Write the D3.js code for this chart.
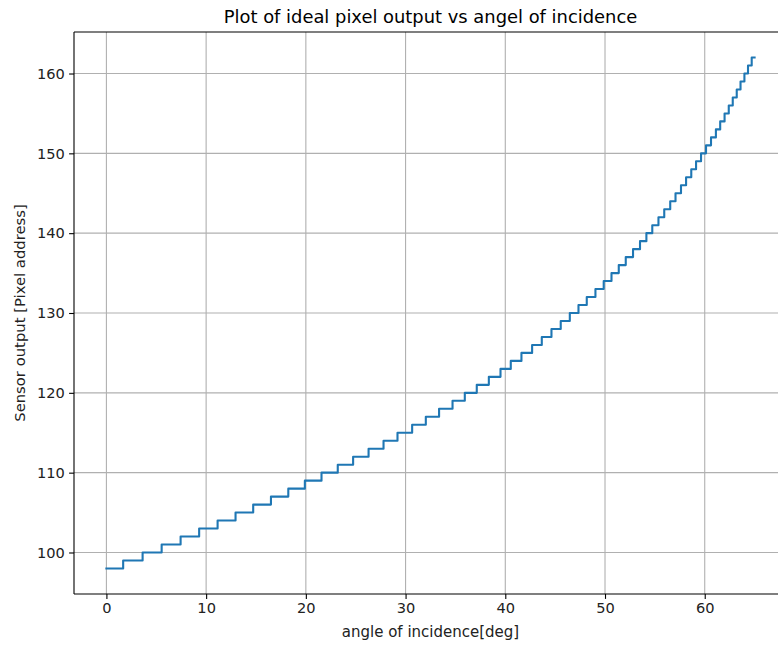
<!DOCTYPE html>
<html>
<head>
<meta charset="utf-8">
<script src="https://cdn.jsdelivr.net/npm/d3@7"></script>
<style>
  html, body { margin: 0; padding: 0; background: #fff; }
  svg { display: block; font-family: "DejaVu Sans", sans-serif; }
</style>
</head>
<body>
<svg id="chart" width="778" height="647"></svg>
<script>
// ---- data ----
const startAngle = 0;
const startValue = 98;
const endAngle = 65;
const stepAngles = [1.68, 3.63, 5.54, 7.44, 9.30, 11.15, 12.95, 14.72, 16.50, 18.24,
  19.90, 21.57, 23.20, 24.74, 26.29, 27.79, 29.19, 30.66, 32.03, 33.36,
  34.71, 35.94, 37.14, 38.35, 39.52, 40.55, 41.62, 42.69, 43.66, 44.63,
  45.56, 46.47, 47.34, 48.17, 49.04, 49.87, 50.65, 51.38, 52.08, 52.81,
  53.51, 54.15, 54.74, 55.36, 55.94, 56.54, 57.07, 57.62, 58.13, 58.65,
  59.13, 59.63, 60.13, 60.63, 61.12, 61.55, 61.99, 62.41, 62.81, 63.21,
  63.59, 63.98, 64.34, 64.71];
const stepValues = [99, 100, 101, 102, 103, 104, 105, 106, 107, 108,
  109, 110, 111, 112, 113, 114, 115, 116, 117, 118,
  119, 120, 121, 122, 123, 124, 125, 126, 127, 128,
  129, 130, 131, 132, 133, 134, 135, 136, 137, 138,
  139, 140, 141, 142, 143, 144, 145, 146, 147, 148,
  149, 150, 151, 152, 153, 154, 155, 156, 157, 158,
  159, 160, 161, 162];
const xTicks = [0, 10, 20, 30, 40, 50, 60];
const yTicks = [100, 110, 120, 130, 140, 150, 160];
const titleText = "Plot of ideal pixel output vs angel of incidence";
const xLabelText = "angle of incidence[deg]";
const yLabelText = "Sensor output [Pixel address]";

// ---- build points ----
const points = [[startAngle, startValue]];
stepAngles.forEach((a, i) => points.push([a, stepValues[i]]));
points.push([endAngle, stepValues[stepValues.length - 1]]);

// ---- layout ----
const L = 74, T = 32, B = 594, R = 787;
const svg = d3.select("#chart");

const x = d3.scaleLinear().domain([-3.25, 68.25]).range([L, R]);
const y = d3.scaleLinear().domain([94.8, 165.2]).range([B, T]);

// grid
const grid = svg.append("g");
grid.selectAll("line.vx").data(xTicks).join("line")
  .attr("x1", d => x(d)).attr("x2", d => x(d))
  .attr("y1", T).attr("y2", B)
  .attr("stroke", "#b0b0b0").attr("stroke-width", 1.1);
grid.selectAll("line.hy").data(yTicks).join("line")
  .attr("x1", L).attr("x2", R)
  .attr("y1", d => y(d)).attr("y2", d => y(d))
  .attr("stroke", "#b0b0b0").attr("stroke-width", 1.1);

// line
const line = d3.line().x(d => x(d[0])).y(d => y(d[1])).curve(d3.curveStepAfter);
svg.append("path").datum(points)
  .attr("d", line)
  .attr("fill", "none")
  .attr("stroke", "#1f77b4")
  .attr("stroke-width", 2.1)
  .attr("stroke-linejoin", "round")
  .attr("stroke-linecap", "square");

// axes
const xAxis = d3.axisBottom(x).tickValues(xTicks).tickSize(4.9).tickPadding(4.2).tickFormat(d3.format("d"));
const yAxis = d3.axisLeft(y).tickValues(yTicks).tickSize(4.9).tickPadding(4.2).tickFormat(d3.format("d"));

const gx = svg.append("g").attr("transform", `translate(0,${B})`).call(xAxis);
const gy = svg.append("g").attr("transform", `translate(${L},0)`).call(yAxis);
[gx, gy].forEach(g => {
  g.select(".domain").remove();
  g.selectAll(".tick line").attr("stroke", "#000").attr("stroke-width", 1.1);
  g.selectAll(".tick text").attr("fill", "#222").attr("font-size", "14.6px")
    .attr("font-family", "DejaVu Sans, sans-serif");
});

// spines (left, bottom, top; right lies outside the canvas)
const sp = svg.append("g").attr("stroke", "#000").attr("stroke-width", 1.1);
sp.append("line").attr("x1", L).attr("x2", L).attr("y1", T).attr("y2", B);
sp.append("line").attr("x1", L).attr("x2", R).attr("y1", B).attr("y2", B);
sp.append("line").attr("x1", L).attr("x2", R).attr("y1", T).attr("y2", T);
sp.append("line").attr("x1", R).attr("x2", R).attr("y1", T).attr("y2", B);

// title and labels
svg.append("text").attr("x", (L + R) / 2).attr("y", 23)
  .attr("text-anchor", "middle").attr("font-size", "17.9px").attr("fill", "#000")
  .text(titleText);
svg.append("text").attr("x", (L + R) / 2).attr("y", 637)
  .attr("text-anchor", "middle").attr("font-size", "15px").attr("fill", "#222")
  .text(xLabelText);
svg.append("text")
  .attr("transform", `translate(24.5,${(T + B) / 2}) rotate(-90)`)
  .attr("text-anchor", "middle").attr("font-size", "14.8px").attr("fill", "#222")
  .text(yLabelText);
</script>
</body>
</html>
